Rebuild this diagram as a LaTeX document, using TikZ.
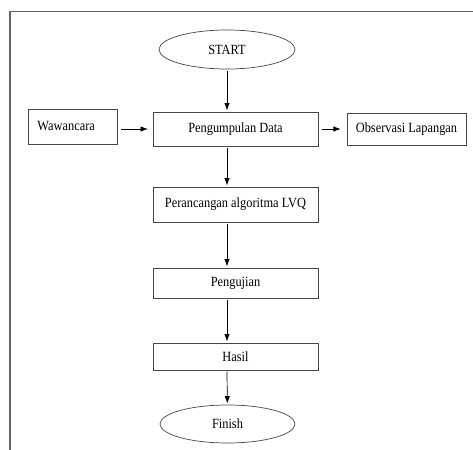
\documentclass[tikz,border=0pt]{standalone}
\usepackage{fontspec}
\setmainfont{Liberation Serif}[FakeStretch=0.88]
\usepackage{tikz}
\usetikzlibrary{shapes.geometric, arrows.meta, positioning}
\definecolor{boxline}{RGB}{70, 70, 70}
\definecolor{frameline}{RGB}{100, 100, 100}

\begin{document}
\begin{tikzpicture}[x=0.03cm, y=-0.03cm,
    stepbox/.style={draw=boxline, line width=0.6pt, minimum width=4.95cm, inner sep=2pt, font=\fontsize{12}{13}\selectfont},
    endpoint/.style={draw=boxline, line width=0.6pt, ellipse, minimum width=4.08cm, minimum height=1.17cm, inner sep=0pt, font=\fontsize{12}{13}\selectfont},
    arr/.style={-{Latex[length=2.2mm, width=1.6mm]}, line width=0.6pt, shorten >=1pt, shorten <=1pt}]
\useasboundingbox (0,0) rectangle (473,450);

% frame
\draw[frameline, line width=0.9pt] (10,450) -- (10,11.5) -- (473,11.5);

% main flow
\node[endpoint] (start) at (227,49.5) {START};
\node[stepbox, minimum height=1.02cm] (kumpul) at (235.5,129) {Pengumpulan Data};
\node[stepbox, minimum height=1.05cm] (rancang) at (235.5,204.5) {Perancangan algoritma LVQ};
\node[stepbox, minimum height=0.9cm] (uji) at (235.5,283) {Pengujian};
\node[stepbox, minimum height=0.81cm] (hasil) at (235.5,356.5) {Hasil};
\node[endpoint, minimum width=4.05cm, minimum height=1.14cm] (finish) at (227.5,424) {Finish};

% side boxes
\node[stepbox, minimum width=2.67cm, minimum height=1.05cm, text width=2.1cm, align=left, inner sep=8pt] (wawan) at (72.5,126.5) {Wawancara\\[-4pt]};
\node[stepbox, minimum width=3.57cm, minimum height=0.96cm] (obs) at (406.5,129) {Observasi Lapangan};

% connectors
\draw[arr] (start) -- (start |- kumpul.north);
\draw[arr] (kumpul.south -| start) -- (rancang.north -| start);
\draw[arr] (rancang.south -| start) -- (uji.north -| start);
\draw[arr] (uji.south -| start) -- (hasil.north -| start);
\draw[arr] (hasil.south -| start) -- (finish);
\draw[arr, shorten <=3pt, shorten >=4pt] (wawan.east |- kumpul) -- (kumpul.west);
\draw[arr, shorten <=3pt, shorten >=5pt] (kumpul.east) -- (obs.west);
\end{tikzpicture}
\end{document}
